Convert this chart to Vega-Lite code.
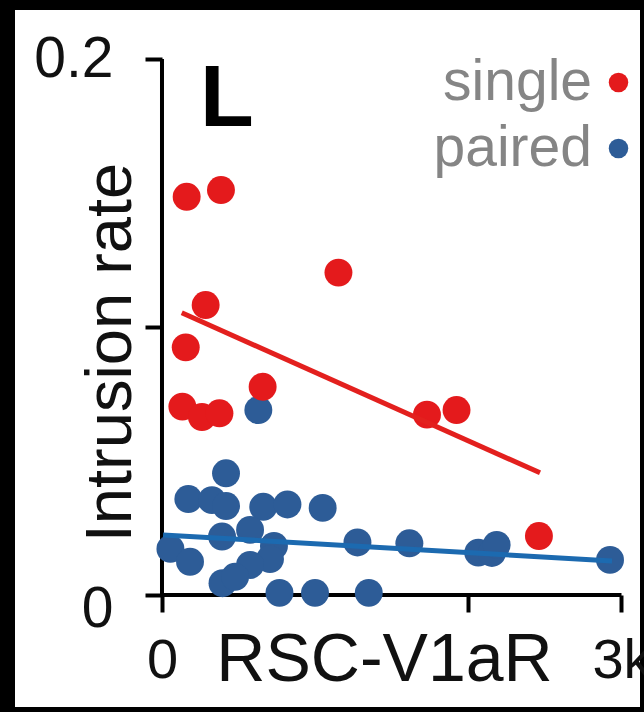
{
  "$schema": "https://vega.github.io/schema/vega-lite/v6.json",
  "width": 625,
  "height": 697,
  "autosize": "none",
  "padding": {"left": 15, "top": 10, "right": 4, "bottom": 5},
  "background": "black",
  "config": {"view": {"fill": "white", "stroke": null}, "font": "Liberation Sans"},
  "title": {"text": "L", "anchor": "start", "frame": "group", "fontSize": 88, "fontWeight": "bold", "font": "Liberation Sans", "color": "black", "baseline": "alphabetic", "offset": 0, "dx": 185, "dy": 204},
  "datasets": {
    "axes": [
      {"x": 0, "x2": 3000, "y": 0, "y2": 0},
      {"x": 0, "x2": 0, "y": 0, "y2": 0.2}
    ],
    "pts": [
      {"group": "paired", "x": 629, "y": 0.0690},
      {"group": "paired", "x": 418, "y": 0.0454},
      {"group": "paired", "x": 172, "y": 0.0358},
      {"group": "paired", "x": 326, "y": 0.0354},
      {"group": "paired", "x": 418, "y": 0.0332},
      {"group": "paired", "x": 661, "y": 0.0329},
      {"group": "paired", "x": 819, "y": 0.0338},
      {"group": "paired", "x": 1049, "y": 0.0325},
      {"group": "paired", "x": 392, "y": 0.0218},
      {"group": "paired", "x": 575, "y": 0.0243},
      {"group": "paired", "x": 55, "y": 0.0172},
      {"group": "paired", "x": 183, "y": 0.0124},
      {"group": "paired", "x": 731, "y": 0.0183},
      {"group": "paired", "x": 705, "y": 0.0134},
      {"group": "paired", "x": 575, "y": 0.0112},
      {"group": "paired", "x": 395, "y": 0.0044},
      {"group": "paired", "x": 477, "y": 0.0068},
      {"group": "paired", "x": 767, "y": 0.0008},
      {"group": "paired", "x": 999, "y": 0.0008},
      {"group": "paired", "x": 1350, "y": 0.0008},
      {"group": "paired", "x": 1276, "y": 0.0196},
      {"group": "paired", "x": 1615, "y": 0.0193},
      {"group": "paired", "x": 2065, "y": 0.0158},
      {"group": "paired", "x": 2154, "y": 0.0157},
      {"group": "paired", "x": 2185, "y": 0.0187},
      {"group": "paired", "x": 2925, "y": 0.0131},
      {"group": "single", "x": 161, "y": 0.1486},
      {"group": "single", "x": 385, "y": 0.1511},
      {"group": "single", "x": 1152, "y": 0.1203},
      {"group": "single", "x": 285, "y": 0.1082},
      {"group": "single", "x": 155, "y": 0.0924},
      {"group": "single", "x": 657, "y": 0.0777},
      {"group": "single", "x": 133, "y": 0.0703},
      {"group": "single", "x": 261, "y": 0.0664},
      {"group": "single", "x": 375, "y": 0.0678},
      {"group": "single", "x": 1730, "y": 0.0673},
      {"group": "single", "x": 1923, "y": 0.0690},
      {"group": "single", "x": 2461, "y": 0.0220}
    ],
    "fit": [
      {"group": "single", "x": 129, "y": 0.1053},
      {"group": "single", "x": 2468, "y": 0.0456},
      {"group": "paired", "x": 7, "y": 0.0224},
      {"group": "paired", "x": 2938, "y": 0.0127}
    ]
  },
  "layer": [
    {
      "data": {"name": "axes"},
      "mark": {"type": "rule", "color": "black", "strokeWidth": 4},
      "encoding": {
        "x": {
          "field": "x", "type": "quantitative",
          "scale": {"domain": [-959.7, 3120.8], "nice": false, "zero": false},
          "axis": {
            "orient": "bottom", "offset": -112, "domain": false, "grid": false,
            "values": [0, 2000, 3000],
            "labelExpr": "datum.value == 0 ? '0' : datum.value == 3000 ? '3k' : ''",
            "tickSize": 17, "tickWidth": 4, "tickColor": "black",
            "labelFontSize": 56, "labelColor": "#111111", "labelFont": "Liberation Sans",
            "labelBaseline": "alphabetic", "labelPadding": 65,
            "labelFlush": false, "labelOverlap": false, "labelBound": false,
            "title": "RSC-V1aR", "titleFontSize": 68, "titleFontWeight": "normal", "titleColor": "#111111",
            "titleFont": "Liberation Sans",
            "titleX": 369, "titleY": 85, "titleAlign": "center", "titleBaseline": "alphabetic"
          }
        },
        "x2": {"field": "x2"},
        "y": {
          "field": "y", "type": "quantitative",
          "scale": {"domain": [-0.04179, 0.218284], "nice": false, "zero": false},
          "axis": {
            "orient": "left", "offset": -147, "domain": false, "grid": false,
            "values": [0, 0.1, 0.2],
            "labelExpr": "datum.value == 0 ? '0' : datum.value == 0.2 ? '0.2' : ''",
            "tickSize": 17, "tickWidth": 4, "tickColor": "black",
            "labelFontSize": 57, "labelColor": "#111111", "labelFont": "Liberation Sans",
            "labelPadding": 32,
            "labelOffset": {"condition": {"test": "datum.value == 0", "value": 14}, "value": 0},
            "labelFlush": false, "labelOverlap": false,
            "title": "Intrusion rate", "titleFontSize": 65, "titleFontWeight": "normal", "titleColor": "#111111",
            "titleFont": "Liberation Sans",
            "titleAngle": -90, "titleX": -32, "titleY": 342, "titleAlign": "center", "titleBaseline": "alphabetic"
          }
        },
        "y2": {"field": "y2"}
      }
    },
    {
      "data": {"name": "pts"},
      "mark": {"type": "circle", "size": 780, "opacity": 1},
      "encoding": {
        "x": {"field": "x", "type": "quantitative"},
        "y": {"field": "y", "type": "quantitative"},
        "color": {
          "field": "group", "type": "nominal",
          "scale": {"domain": ["single", "paired"], "range": ["#E41A1C", "#2D5C97"]},
          "legend": {
            "orient": "none", "legendX": 575, "legendY": 44, "title": null,
            "symbolType": "circle", "symbolSize": 380, "symbolStrokeWidth": 0,
            "labelFontSize": 57, "labelColor": "#858585", "labelFont": "Liberation Sans",
            "labelAlign": "right", "labelOffset": -55, "rowPadding": 8, "padding": 0
          }
        }
      }
    },
    {
      "data": {"name": "fit"},
      "mark": {"type": "line", "strokeWidth": 5},
      "encoding": {
        "x": {"field": "x", "type": "quantitative"},
        "y": {"field": "y", "type": "quantitative"},
        "stroke": {
          "field": "group", "type": "nominal",
          "scale": {"domain": ["single", "paired"], "range": ["#E3201E", "#1C6AB0"]},
          "legend": null
        },
        "detail": {"field": "group"}
      }
    }
  ]
}
